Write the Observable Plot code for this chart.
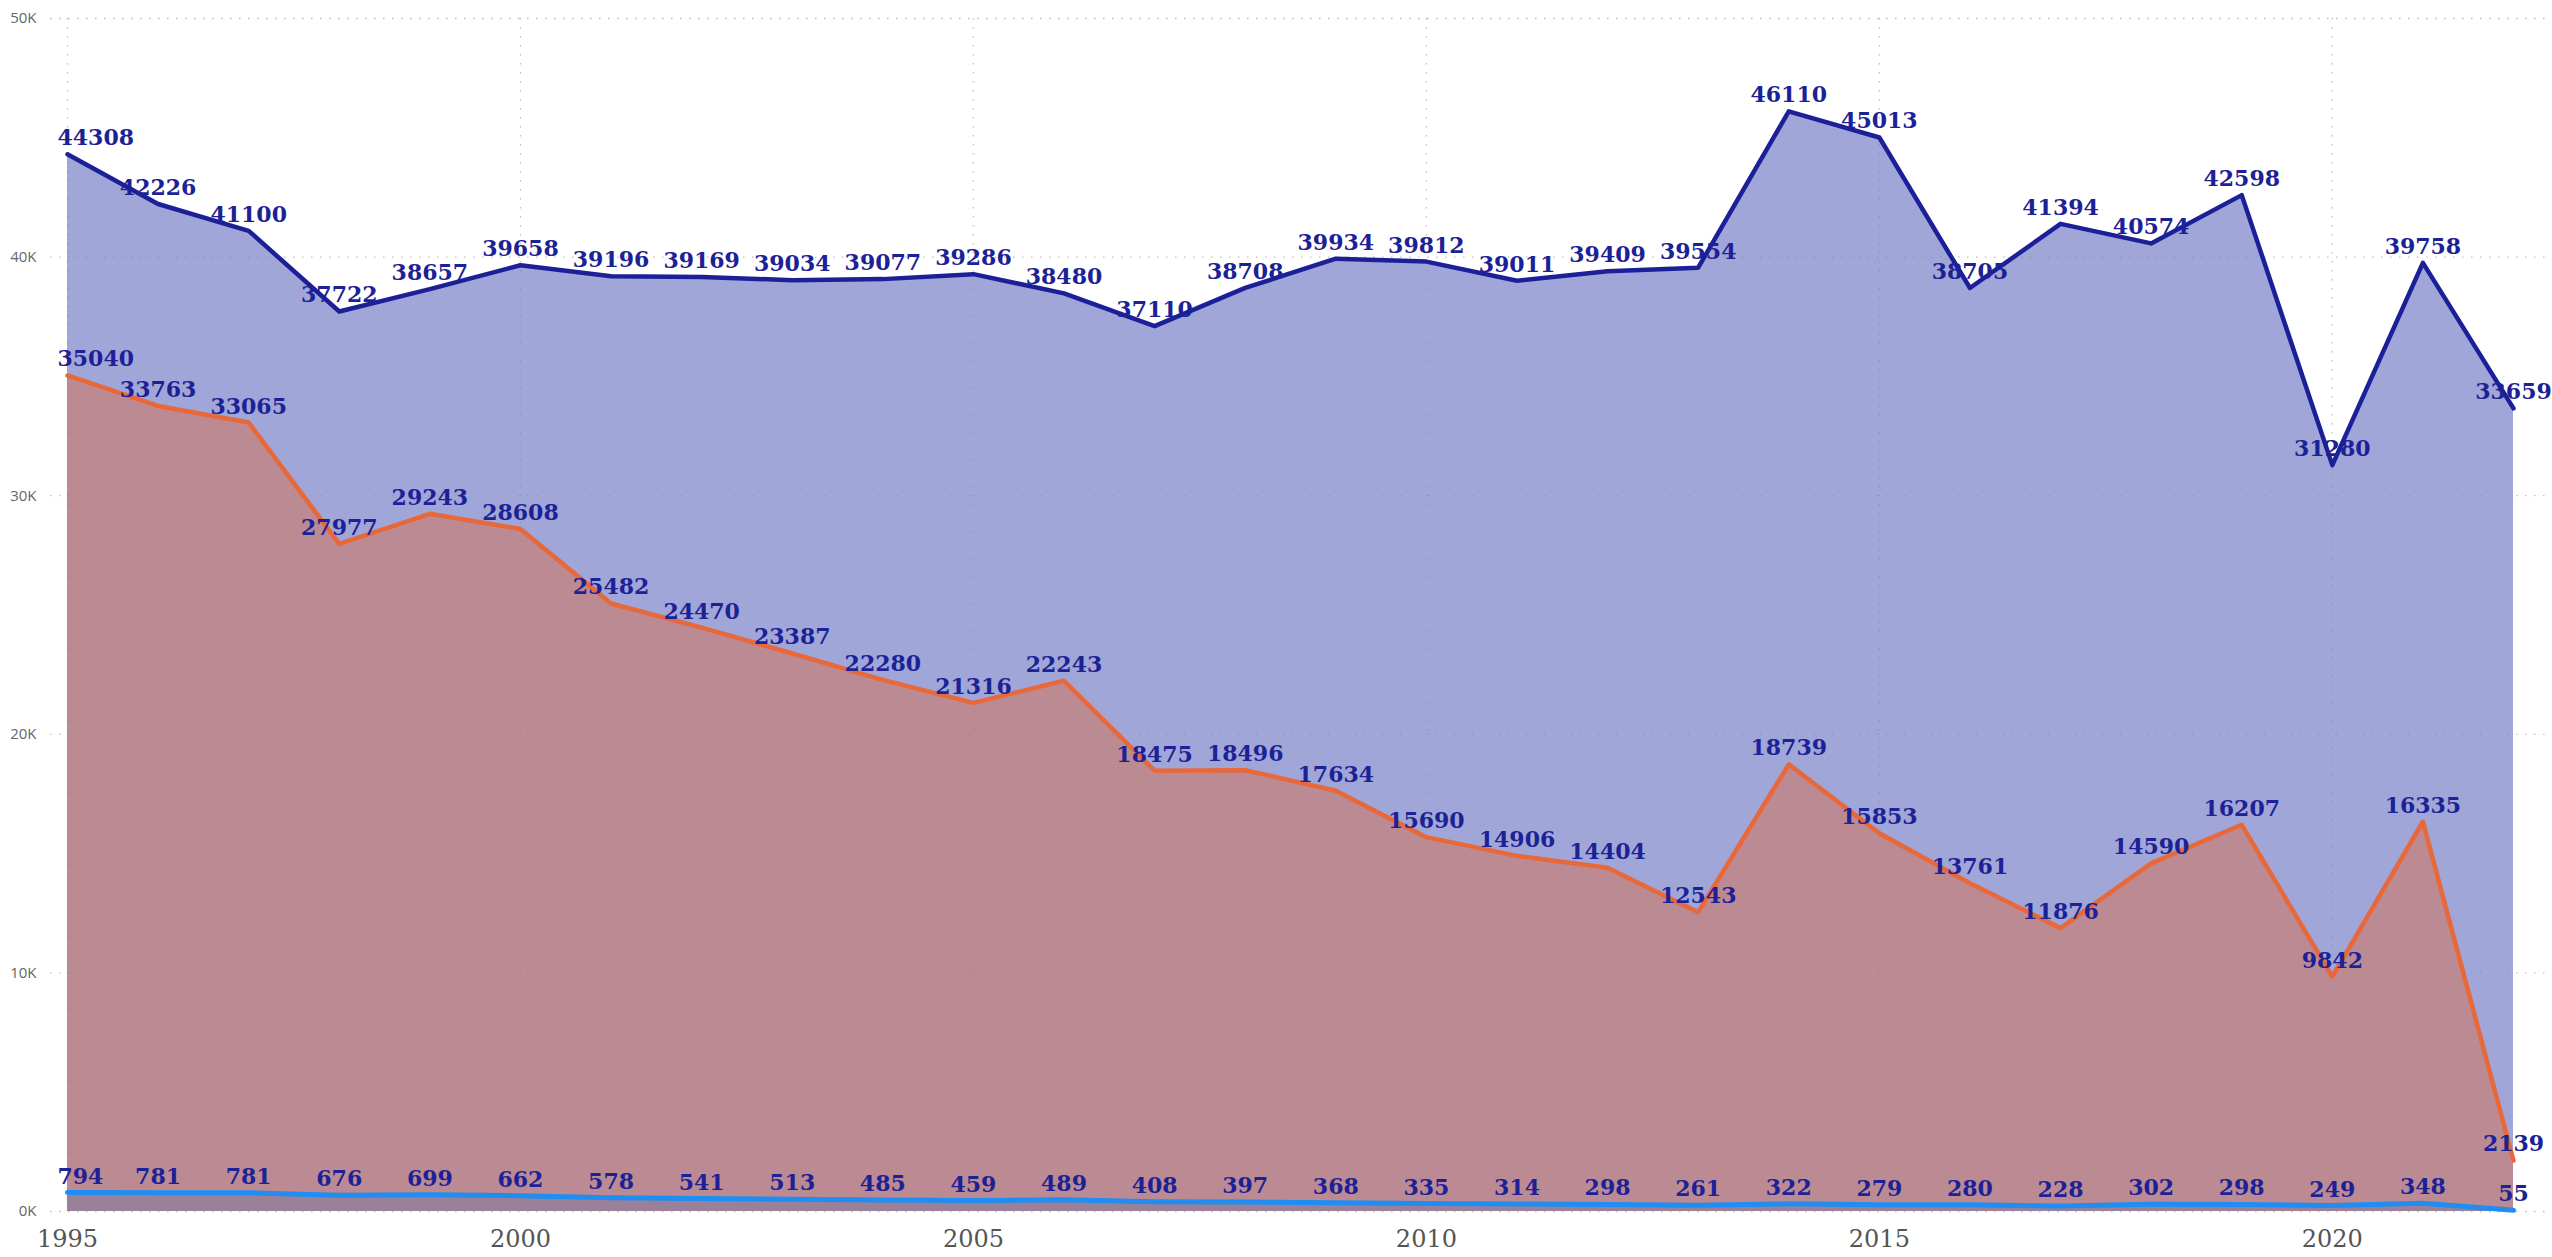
<!DOCTYPE html>
<html>
<head>
<meta charset="utf-8">
<script src="https://cdn.jsdelivr.net/npm/d3@7"></script>
<script src="https://cdn.jsdelivr.net/npm/@observablehq/plot@0.6"></script>
<style>
  html, body { margin: 0; padding: 0; background: #ffffff; }
  #chart svg { display: block; }
</style>
</head>
<body>
<div id="chart"></div>
<script>
// ---- data ----
const years = [1995, 1996, 1997, 1998, 1999, 2000, 2001, 2002, 2003, 2004,
               2005, 2006, 2007, 2008, 2009, 2010, 2011, 2012, 2013, 2014,
               2015, 2016, 2017, 2018, 2019, 2020, 2021, 2022];
const totalValues = [44308, 42226, 41100, 37722, 38657, 39658, 39196, 39169, 39034, 39077,
                     39286, 38480, 37110, 38708, 39934, 39812, 39011, 39409, 39554, 46110,
                     45013, 38705, 41394, 40574, 42598, 31280, 39758, 33659];
const orangeValues = [35040, 33763, 33065, 27977, 29243, 28608, 25482, 24470, 23387, 22280,
                      21316, 22243, 18475, 18496, 17634, 15690, 14906, 14404, 12543, 18739,
                      15853, 13761, 11876, 14590, 16207, 9842, 16335, 2139];
const lightValues = [794, 781, 781, 676, 699, 662, 578, 541, 513, 485,
                     459, 489, 408, 397, 368, 335, 314, 298, 261, 322,
                     279, 280, 228, 302, 298, 249, 348, 55];
const xTicks = [1995, 2000, 2005, 2010, 2015, 2020];
const yTicks = [0, 10000, 20000, 30000, 40000, 50000];

// ---- tables ----
const mk = (vals) => years.map((year, i) => ({year, value: vals[i]}));
const total = mk(totalValues);
const orange = mk(orangeValues);
const light = mk(lightValues);
const allLabels = [...total, ...orange, ...light];

const navy = "#1b2099";
const labelStyle = {
  fontFamily: "DejaVu Serif",
  fontWeight: "bold",
  fontSize: 22,
  fill: "#1c2296",
  lineAnchor: "bottom",
  dy: -9
};
const gridStyle = {stroke: "#8a8a8a", strokeOpacity: 0.55, strokeWidth: 1.3, strokeDasharray: "1.5,7.5"};

const chart = Plot.plot({
  width: 2552,
  height: 1257,
  marginLeft: 67,
  marginRight: 39,
  marginTop: 18,
  marginBottom: 46,
  style: {background: "#ffffff", overflow: "visible"},
  x: {domain: [1995, 2022], axis: null},
  y: {domain: [0, 50000], axis: null},
  marks: [
    Plot.areaY(total, {x: "year", y: "value", fill: "#a0a6d7"}),
    Plot.areaY(orange, {x: "year", y: "value", fill: "#bb8a93"}),
    Plot.areaY(light, {x: "year", y: "value", fill: "#9a8098"}),
    Plot.gridY(yTicks, {...gridStyle, insetLeft: -17, insetRight: -39}),
    Plot.gridX(xTicks, {...gridStyle}),
    Plot.axisY(yTicks, {
      tickSize: 0, tickPadding: 31, label: null,
      tickFormat: d => (d / 1000) + "K",
      fontFamily: "Open Sans", fontSize: 15, color: "#666666"
    }),
    Plot.axisX(xTicks, {
      tickSize: 0, tickPadding: 18, label: null,
      tickFormat: d => String(d),
      fontFamily: "DejaVu Serif", fontSize: 24, color: "#555555"
    }),
    Plot.line(total, {x: "year", y: "value", stroke: navy, strokeWidth: 4.5}),
    Plot.line(orange, {x: "year", y: "value", stroke: "#e8683a", strokeWidth: 4.5}),
    Plot.line(light, {x: "year", y: "value", stroke: "#1f8df1", strokeWidth: 5}),
    Plot.text(allLabels.filter(d => d.year !== 1995), {
      x: "year", y: "value", text: d => String(d.value), textAnchor: "middle", ...labelStyle
    }),
    Plot.text(allLabels.filter(d => d.year === 1995), {
      x: "year", y: "value", text: d => String(d.value), textAnchor: "start", dx: -10, ...labelStyle
    })
  ]
});
document.getElementById("chart").appendChild(chart);
</script>
</body>
</html>
